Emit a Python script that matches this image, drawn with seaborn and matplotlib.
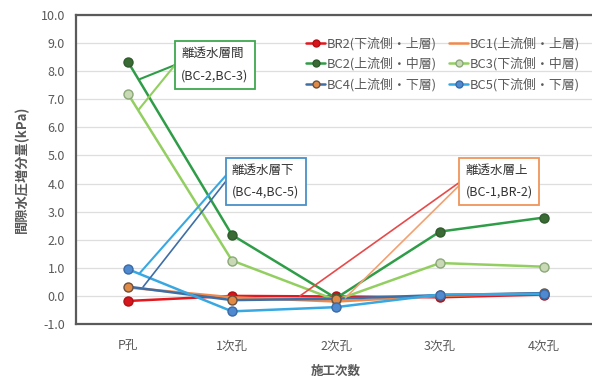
import numpy as np
import pandas as pd
import matplotlib
matplotlib.use("Agg")
import matplotlib.pyplot as plt
import seaborn as sns

sns.set_theme(style="white")
plt.rcParams['font.family'] = ['Noto Sans CJK JP', 'DejaVu Sans']

stages = ["P孔", "1次孔", "2次孔", "3次孔", "4次孔"]
br2 = [-0.18, 0.0, -0.02, -0.05, 0.05]
bc1 = [0.30, -0.05, -0.20, 0.00, 0.10]
bc2 = [8.33, 2.17, -0.08, 2.29, 2.79]
bc3 = [7.19, 1.26, -0.15, 1.17, 1.04]
bc4 = [0.33, -0.15, -0.10, 0.03, 0.10]
bc5 = [0.95, -0.55, -0.40, 0.05, 0.07]

labels = ["BR2(下流側・上層)", "BC1(上流側・上層)", "BC2(上流側・中層)",
          "BC3(下流側・中層)", "BC4(上流側・下層)", "BC5(下流側・下層)"]
series = [br2, bc1, bc2, bc3, bc4, bc5]

# line colour, marker face, marker edge, whether markers are drawn
styles = [
    dict(color="#e3171e", mfc="#d5161c", mec="#b01015", marker="o"),
    dict(color="#f08a4b", mfc="none", mec="none", marker=None),
    dict(color="#2f9d48", mfc="#3b6b35", mec="#2f5a2c", marker="o"),
    dict(color="#92cf60", mfc="#c9d9b6", mec="#8aa878", marker="o"),
    dict(color="#3e6ea6", mfc="#e08a45", mec="#6b5040", marker="o"),
    dict(color="#38a8e2", mfc="#4f8ad0", mec="#3a6aa6", marker="o"),
]

txt = "#595959"
fig = plt.figure(figsize=(5.92, 3.78), dpi=100)
ax = fig.add_axes([76 / 592, 1 - 324 / 378, 520 / 592, 309 / 378])

xpos = np.arange(len(stages))
for lab, vals, st in zip(labels, series, styles):
    df = pd.DataFrame({"x": xpos, "y": vals})
    kw = dict(color=st["color"], linewidth=1.8, label=lab)
    if st["marker"]:
        kw.update(marker="o", markersize=6.5, markerfacecolor=st["mfc"],
                  markeredgecolor=st["mec"], markeredgewidth=1.0)
    sns.lineplot(data=df, x="x", y="y", ax=ax, **kw)

ax.set_xlim(-0.5, 4.5)
ax.set_ylim(-1.0, 10.0)
ax.set_yticks(np.arange(-1, 10.5, 1.0))
ax.set_yticklabels([f"{v:.1f}" for v in np.arange(-1, 10.5, 1.0)])
ax.set_xticks(xpos)
ax.set_xticklabels(stages)
ax.tick_params(axis="both", colors=txt, labelsize=9, length=0, pad=8)
ax.tick_params(axis="x", pad=11)
ax.yaxis.grid(True, color="#dedede", linewidth=0.9)
ax.set_axisbelow(True)
for side in ["top", "left", "bottom", "right"]:
    ax.spines[side].set_color("#5a5a5a")
    ax.spines[side].set_linewidth(1.6)

ax.set_xlabel("施工次数", color=txt, fontsize=9, fontweight="bold", labelpad=9)
ax.set_ylabel("間隙水圧増分量(kPa)", color=txt, fontsize=9.5, fontweight="bold", labelpad=8)

# legend filled row by row: two entries per row
handles, labs = ax.get_legend_handles_labels()
order = [0, 2, 4, 1, 3, 5]
leg = ax.legend([handles[i] for i in order], [labs[i] for i in order],
                ncol=2, loc="upper right", bbox_to_anchor=(0.985, 0.955), frameon=False,
                fontsize=9.3, handlelength=1.5, handletextpad=0.15, columnspacing=0.9,
                labelspacing=0.55, borderaxespad=0.2)
for t in leg.get_texts():
    t.set_color(txt)
for h in leg.legend_handles:
    h.set_markersize(5)

# callout boxes with leader lines
def callout(x, y, text, edge):
    ax.text(x, y, text, fontsize=9, color="#333333", ha="left", va="top",
            linespacing=1.9,
            bbox=dict(boxstyle="square,pad=0.5", facecolor="white",
                      edgecolor=edge, linewidth=1.3), zorder=6)

ax.plot([0.452, 0.115], [8.22, 7.72], color="#2f9d48", lw=1.5, zorder=5)
ax.plot([0.452, 0.10], [8.22, 6.62], color="#92cf60", lw=1.5, zorder=5)
callout(0.51, 8.85, "離透水層間\n(BC-2,BC-3)", "#3fa84f")

ax.plot([0.945, 0.115], [4.30, 0.82], color="#38a8e2", lw=1.5, zorder=5)
ax.plot([0.945, 0.145], [4.10, 0.32], color="#3e6ea6", lw=1.2, zorder=5)
callout(1.0, 4.70, "離透水層下\n(BC-4,BC-5)", "#4a90c8")

ax.plot([3.19, 1.654], [4.05, 0.0], color="#e84a4a", lw=1.2, zorder=5)
ax.plot([3.19, 2.09], [3.95, -0.07], color="#f4a070", lw=1.2, zorder=5)
callout(3.245, 4.70, "離透水層上\n(BC-1,BR-2)", "#f0955a")

fig.savefig("out.png", dpi=100, facecolor="white")
